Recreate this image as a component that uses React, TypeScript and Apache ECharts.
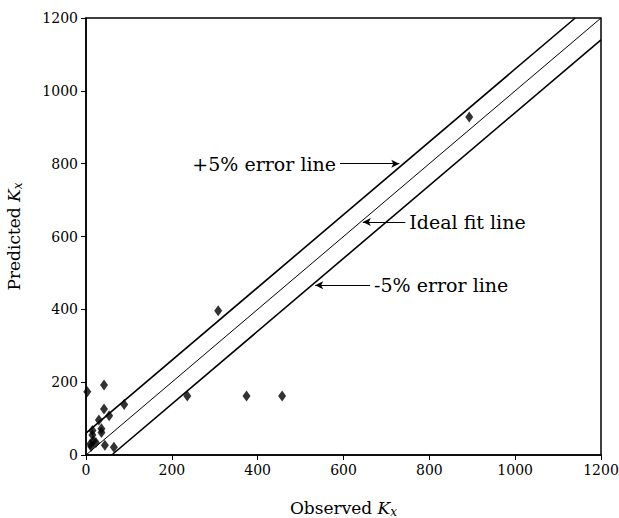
import React, { useEffect, useRef } from "react";
import * as echarts from "echarts";

const observed = [3, 42, 42, 54, 30, 89, 15, 36, 36, 15, 17, 12, 23, 44, 65, 10, 236, 308, 374, 457, 893];
const predicted = [174, 192, 126, 108, 96, 139, 67, 72, 62, 55, 39, 23, 34, 27, 21, 30, 162, 396, 162, 162, 928];

const idealLine = [[0, 0], [1200, 1200]];
const plusLine = [[0, 60], [1140, 1200]];
const minusLine = [[60, 0], [1200, 1140]];

const tickValues = [0, 200, 400, 600, 800, 1000, 1200];

const FONT = "DejaVu Serif";

export default function App() {
  const ref = useRef<HTMLDivElement>(null);
  useEffect(() => {
    if (!ref.current) return;
    const chart = echarts.init(ref.current, undefined, { renderer: "svg" });
    const axisCommon = {
      type: "value",
      min: tickValues[0],
      max: tickValues[tickValues.length - 1],
      interval: 200,
      splitLine: { show: false },
      axisLine: { show: true, lineStyle: { color: "#000", width: 1.5 } },
      axisTick: { show: true, inside: false, length: 5, lineStyle: { color: "#000", width: 1 } },
      axisLabel: {
        color: "#000",
        fontFamily: FONT,
        fontSize: 14,
        formatter: (v: number) => String(v),
      },
      nameLocation: "middle",
      nameTextStyle: {
        color: "#000",
        fontFamily: FONT,
        fontSize: 17,
        rich: {
          i: { fontFamily: FONT, fontStyle: "italic", fontSize: 17, color: "#000" },
          s: { fontFamily: FONT, fontStyle: "italic", fontSize: 12, color: "#000", padding: [8, 0, 0, 0] },
        },
      },
    };
    const lbl = { fontFamily: FONT, fontSize: 19, color: "#000", distance: 4 };
    chart.setOption({
      animation: false,
      backgroundColor: "#fff",
      grid: {
        left: 86,
        right: 18,
        top: 18,
        bottom: 63,
        show: true,
        borderColor: "#000",
        borderWidth: 1.5,
        outerBoundsMode: "none",
        containLabel: false,
      },
      xAxis: {
        ...axisCommon,
        name: "Observed {i|K}{s|x}",
        nameGap: 43,
      },
      yAxis: {
        ...axisCommon,
        name: "Predicted {i|K}{s|x}",
        nameGap: 62,
        nameRotate: 90,
      },
      series: [
        {
          type: "line",
          data: idealLine,
          symbol: "none",
          lineStyle: { color: "#000", width: 1 },
          markLine: {
            silent: true,
            symbol: ["none", "arrow"],
            symbolSize: [6, 8],
            lineStyle: { color: "#000", width: 1.2, type: "solid" },
            data: [
              [
                { coord: [592, 800], label: { show: true, position: "start", formatter: "+5% error line", ...lbl } },
                { coord: [730, 800] },
              ],
              [
                { coord: [744, 640], label: { show: true, position: "start", formatter: "Ideal fit line", ...lbl } },
                { coord: [645, 640] },
              ],
              [
                { coord: [662, 466], label: { show: true, position: "start", formatter: "-5% error line", ...lbl } },
                { coord: [534, 466] },
              ],
            ],
          },
        },
        {
          type: "line",
          data: plusLine,
          symbol: "none",
          lineStyle: { color: "#000", width: 1.6 },
        },
        {
          type: "line",
          data: minusLine,
          symbol: "none",
          lineStyle: { color: "#000", width: 1.6 },
        },
        {
          type: "scatter",
          data: observed.map((x, i) => [x, predicted[i]]),
          symbol: "diamond",
          symbolSize: [8, 11],
          itemStyle: { color: "#000" },
          z: 5,
        },
      ],
    });
    return () => chart.dispose();
  }, []);
  return (
    <div
      ref={ref}
      style={{ position: "fixed", left: 0, top: 0, width: 619, height: 518, background: "#fff" }}
    />
  );
}
